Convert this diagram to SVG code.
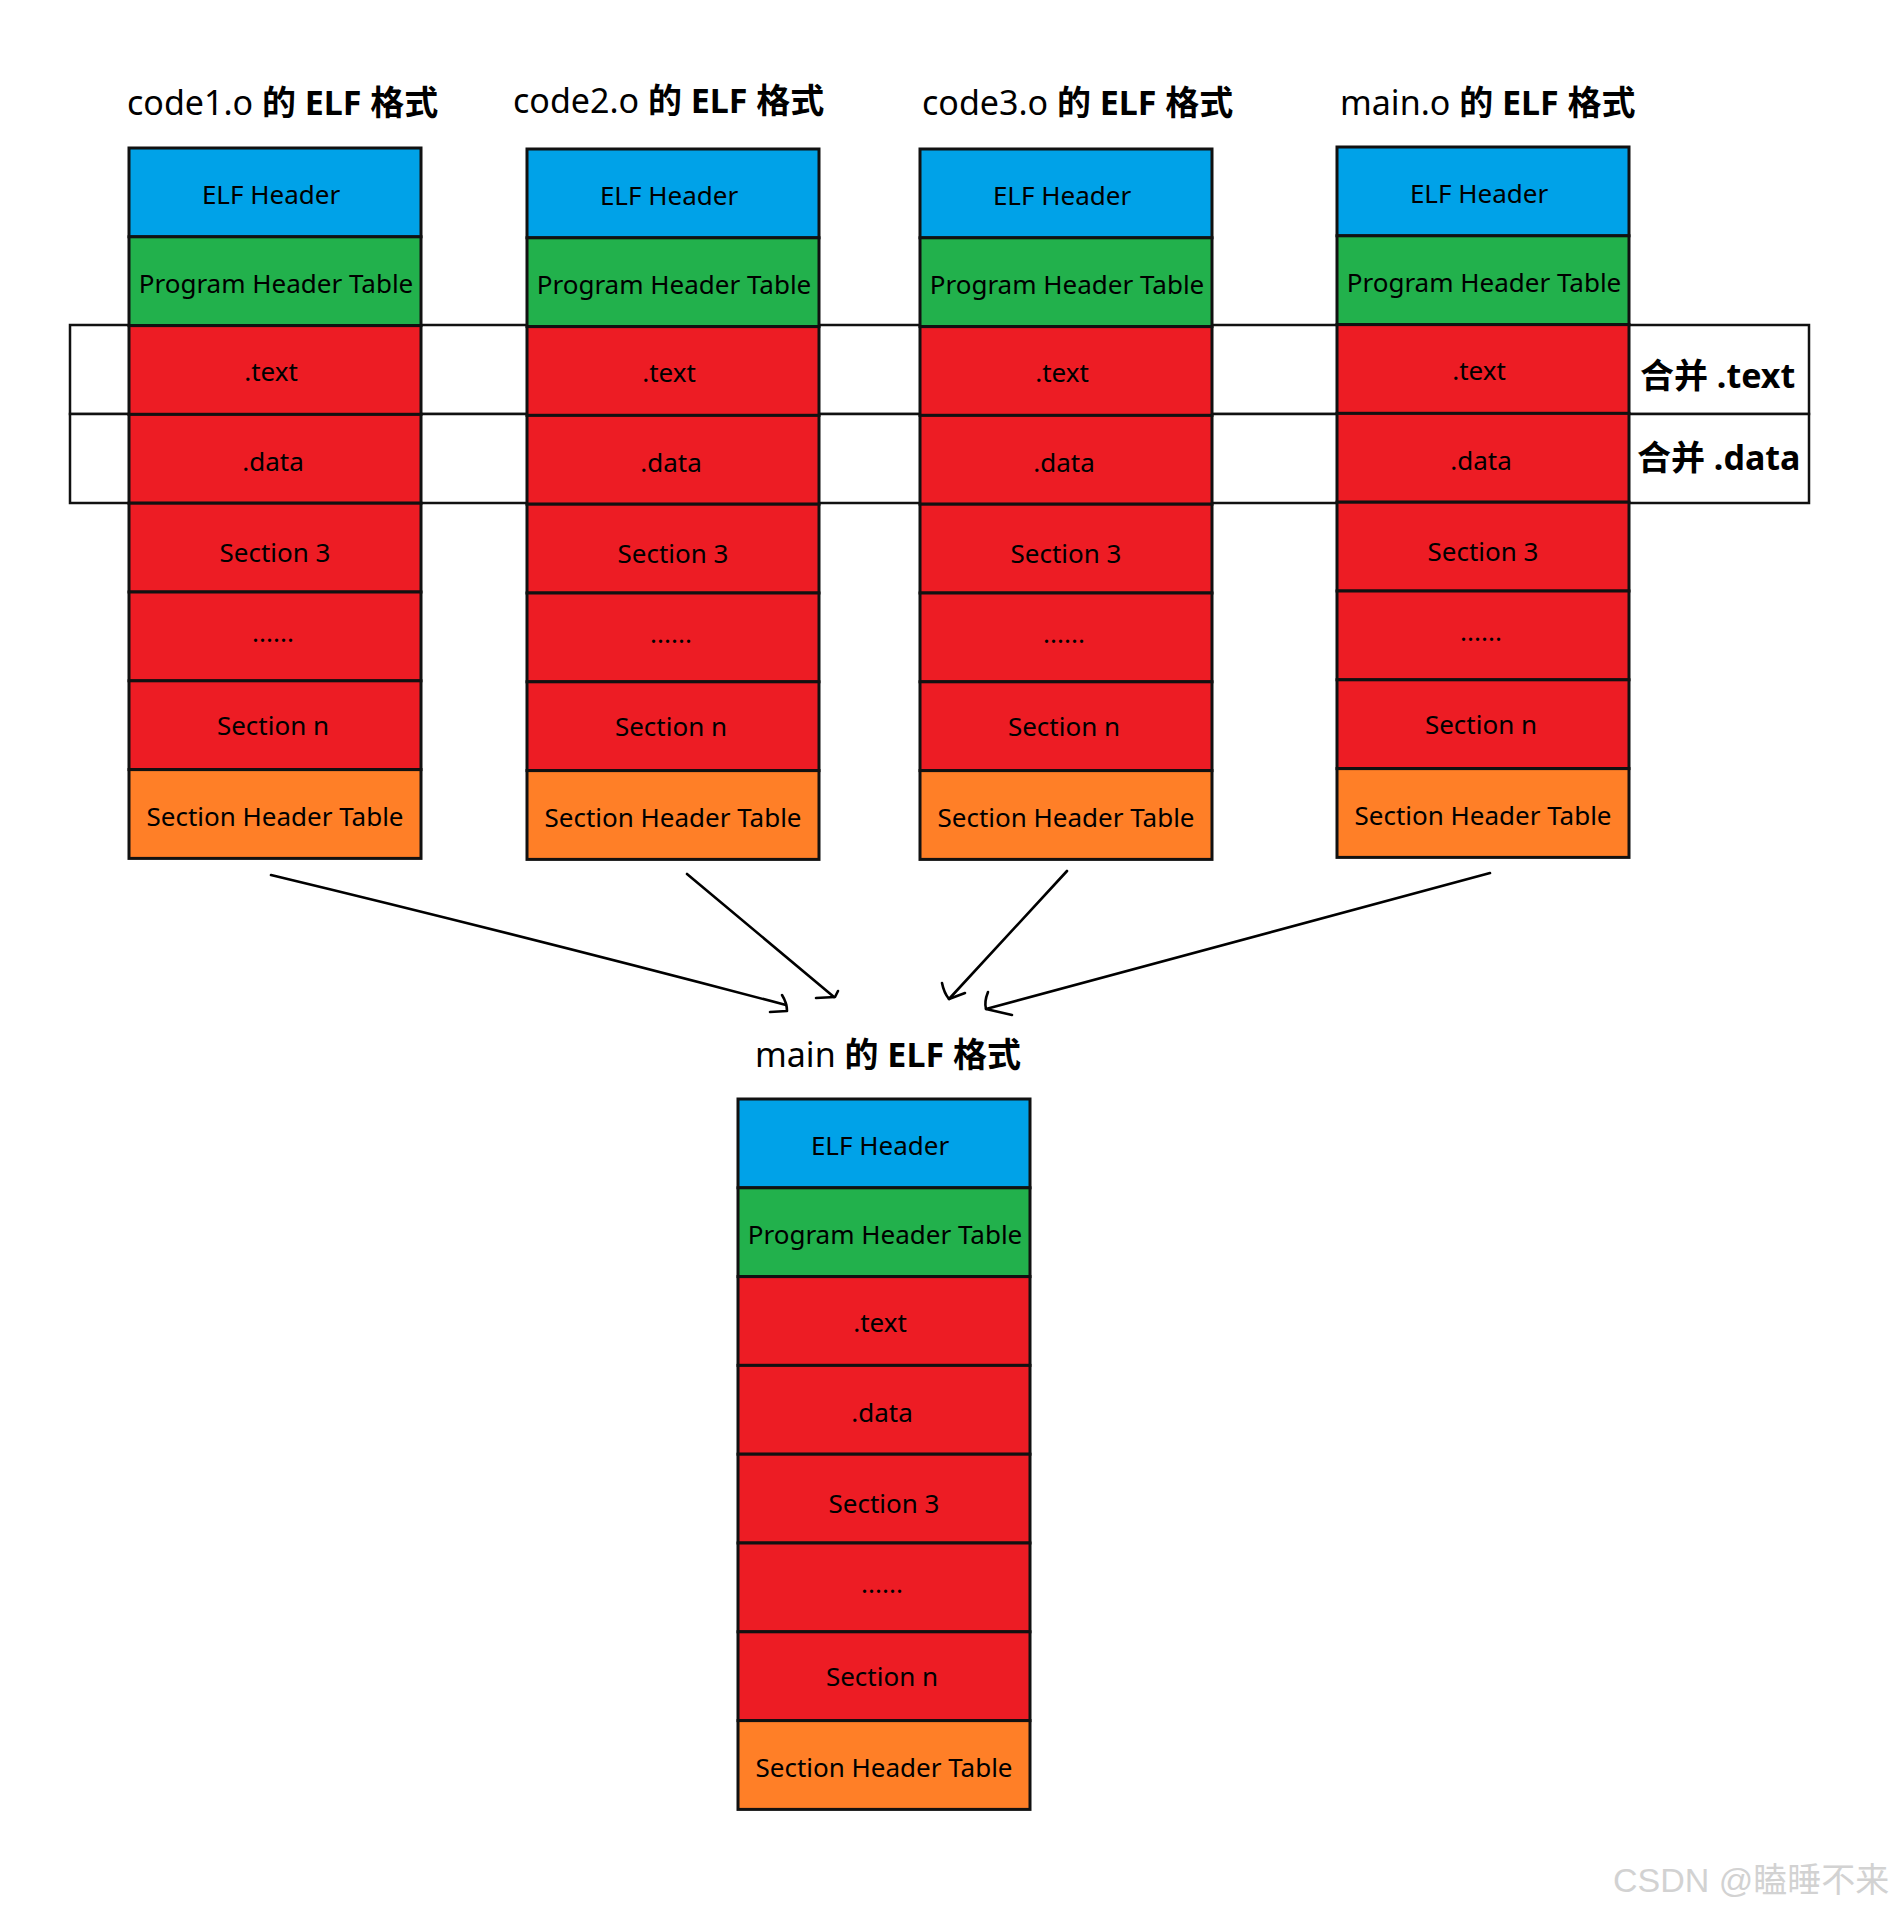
<svg xmlns="http://www.w3.org/2000/svg" width="1899" height="1916" viewBox="0 0 1899 1916">
<style>
.cell{stroke:#111;stroke-width:3}
.b{fill:#00A2E8}.g{fill:#22B14C}.r{fill:#ED1C24}.o{fill:#FF7F27}
.t{font-family:"Noto Sans","Noto Sans CJK SC",sans-serif;font-size:26px;fill:#000;text-anchor:middle}
.ti{font-family:"Noto Sans","Noto Sans CJK SC",sans-serif;font-size:34px;fill:#000}
.bd{font-weight:bold}
.mg{font-family:"Noto Sans","Noto Sans CJK SC",sans-serif;font-size:34px;font-weight:bold;fill:#000}
.ln{fill:none;stroke:#000;stroke-width:2.6;stroke-linecap:round;stroke-linejoin:round}
.frame{fill:#fff;stroke:#111;stroke-width:2.5}
</style>
<rect width="1899" height="1916" fill="#fff"/>
<defs>
<g id="stack">
<rect class="cell b" x="0" y="0" width="292" height="88.8"/>
<rect class="cell g" x="0" y="88.8" width="292" height="88.8"/>
<rect class="cell r" x="0" y="177.6" width="292" height="88.8"/>
<rect class="cell r" x="0" y="266.4" width="292" height="88.8"/>
<rect class="cell r" x="0" y="355.2" width="292" height="88.8"/>
<rect class="cell r" x="0" y="444" width="292" height="88.8"/>
<rect class="cell r" x="0" y="532.8" width="292" height="88.8"/>
<rect class="cell o" x="0" y="621.6" width="292" height="88.8"/>
<text class="t" x="142" y="56">ELF Header</text>
<text class="t" x="147" y="145">Program Header Table</text>
<text class="t" x="142" y="233">.text</text>
<text class="t" x="144" y="323">.data</text>
<text class="t" x="146" y="414">Section 3</text>
<text class="t" x="144" y="494">......</text>
<text class="t" x="144" y="587">Section n</text>
<text class="t" x="146" y="678">Section Header Table</text>
</g>
</defs>
<g id="merge-frames">
<rect class="frame" x="70" y="325" width="1739" height="89"/>
<rect class="frame" x="70" y="414" width="1739" height="89"/>
</g>
<g id="code1">
<text class="ti" x="127" y="115">code1.o <tspan class="bd">的 ELF 格式</tspan></text>
<use href="#stack" x="129" y="148"/>
</g>
<g id="code2">
<text class="ti" x="513" y="113">code2.o <tspan class="bd">的 ELF 格式</tspan></text>
<use href="#stack" x="527" y="149"/>
</g>
<g id="code3">
<text class="ti" x="922" y="115">code3.o <tspan class="bd">的 ELF 格式</tspan></text>
<use href="#stack" x="920" y="149"/>
</g>
<g id="maino">
<text class="ti" x="1340" y="115">main.o <tspan class="bd">的 ELF 格式</tspan></text>
<use href="#stack" x="1337" y="147"/>
</g>
<g id="merge-labels">
<text class="mg" x="1640" y="388">合并 .text</text>
<text class="mg" x="1637" y="470">合并 .data</text>
</g>
<g id="main">
<text class="ti" x="755" y="1067">main <tspan class="bd">的 ELF 格式</tspan></text>
<use href="#stack" x="738" y="1099"/>
</g>
<g id="connectors">
<path class="ln" d="M271 875 Q520 935 786 1005"/>
<path class="ln" d="M782 995 Q787 1003 787 1011 L770 1012"/>
<path class="ln" d="M687 874 L834 997"/>
<path class="ln" d="M816 998 L835 997 L838 991"/>
<path class="ln" d="M1067 871 L949 999"/>
<path class="ln" d="M942 983 Q944 993 949 999 L965 993"/>
<path class="ln" d="M1490 873 L986 1009"/>
<path class="ln" d="M988 992 Q984 1002 986 1009 L1012 1015"/>
</g>
<text x="1613" y="1892" font-family="'Liberation Sans','Noto Sans CJK SC',sans-serif" font-size="34" fill="#d2d2d2">CSDN @瞌睡不来</text>
</svg>
